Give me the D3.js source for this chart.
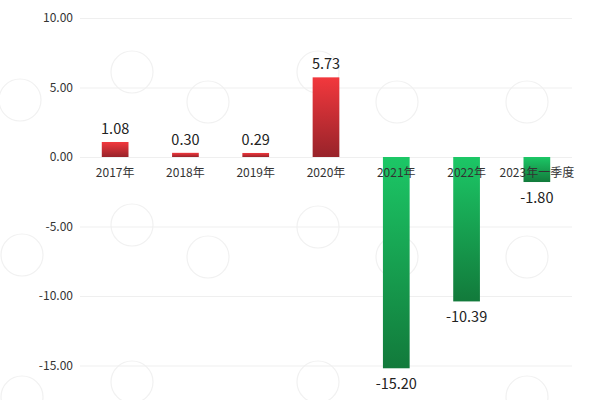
<!DOCTYPE html>
<html>
<head>
<meta charset="utf-8">
<script src="https://cdn.jsdelivr.net/npm/d3@7"></script>
<style>
body { margin: 0; background: #fff; }
</style>
</head>
<body>
<svg id="chart" width="600" height="400"></svg>
<script>
// values
const categories = ["2017年", "2018年", "2019年", "2020年", "2021年", "2022年", "2023年一季度"];
const values = [1.08, 0.30, 0.29, 5.73, -15.20, -10.39, -1.80];
const tickValues = [10, 5, 0, -5, -10, -15];
// watermark centres
const markX = [132, 20, 208, 318, 397, 527, 132, 22, 208, 318, 397, 527, 132, 22, 318, 527];
const markY = [72, 100, 102, 72, 102, 102, 225, 255, 257, 227, 257, 257, 382, 397, 382, 397];

const fontFamily = "'Noto Sans CJK SC', 'Noto Sans', sans-serif";
const svg = d3.select("#chart");

const x = d3.scaleBand().domain(categories).range([80, 572]).paddingInner(0.62).paddingOuter(0.31);
const y = d3.scaleLinear().domain([-15, 10]).range([365.5, 18]);

let defs = svg.append("defs");
let gRed = defs.append("linearGradient").attr("id", "gRed").attr("x1", 0).attr("y1", 0).attr("x2", 0).attr("y2", 1);
gRed.append("stop").attr("offset", "0%").attr("stop-color", "#f2383d");
gRed.append("stop").attr("offset", "100%").attr("stop-color", "#98232a");
let gGreen = defs.append("linearGradient").attr("id", "gGreen").attr("x1", 0).attr("y1", 0).attr("x2", 0).attr("y2", 1);
gGreen.append("stop").attr("offset", "0%").attr("stop-color", "#1cc766");
gGreen.append("stop").attr("offset", "100%").attr("stop-color", "#127a3b");

// watermark circles
svg.append("g").selectAll("circle")
	.data(markX)
	.join("circle")
	.attr("cx", d => d)
	.attr("cy", (d, i) => markY[i])
	.attr("r", 21)
	.style("fill", "none")
	.style("stroke", "#f1f1f1")
	.style("stroke-width", 1.2);

// grid + y labels
let axis = svg.append("g").attr("transform", "translate(80,0)")
	.call(d3.axisLeft(y).tickValues(tickValues).tickSize(-492).tickPadding(7)
		.tickFormat(d => d.toFixed(2)));
axis.select(".domain").remove();
axis.selectAll(".tick line").style("stroke", "#efefef");
axis.selectAll(".tick text")
	.attr("font-family", fontFamily)
	.attr("font-size", 12)
	.style("fill", "#333");

// bars
svg.append("g").selectAll("rect")
	.data(values)
	.join("rect")
	.attr("x", (d, i) => x(categories[i]))
	.attr("width", x.bandwidth())
	.attr("y", d => y(Math.max(d, 0)))
	.attr("height", d => Math.abs(y(d) - y(0)))
	.style("fill", d => d >= 0 ? "url(#gRed)" : "url(#gGreen)");

// category labels
svg.append("g").selectAll("text")
	.data(categories)
	.join("text")
	.text(d => d)
	.attr("x", d => x(d) + x.bandwidth() / 2)
	.attr("y", y(0) + 20)
	.attr("font-family", fontFamily)
	.attr("font-size", 12)
	.style("fill", "#333")
	.style("text-anchor", "middle");

// value labels
svg.append("g").selectAll("text")
	.data(values)
	.join("text")
	.text(d => d.toFixed(2))
	.attr("x", (d, i) => x(categories[i]) + x.bandwidth() / 2)
	.attr("y", d => d >= 0 ? y(d) - 8 : y(d) + 21)
	.attr("font-family", fontFamily)
	.attr("font-size", 14.5)
	.style("fill", "#222")
	.style("text-anchor", "middle");
</script>
</body>
</html>
